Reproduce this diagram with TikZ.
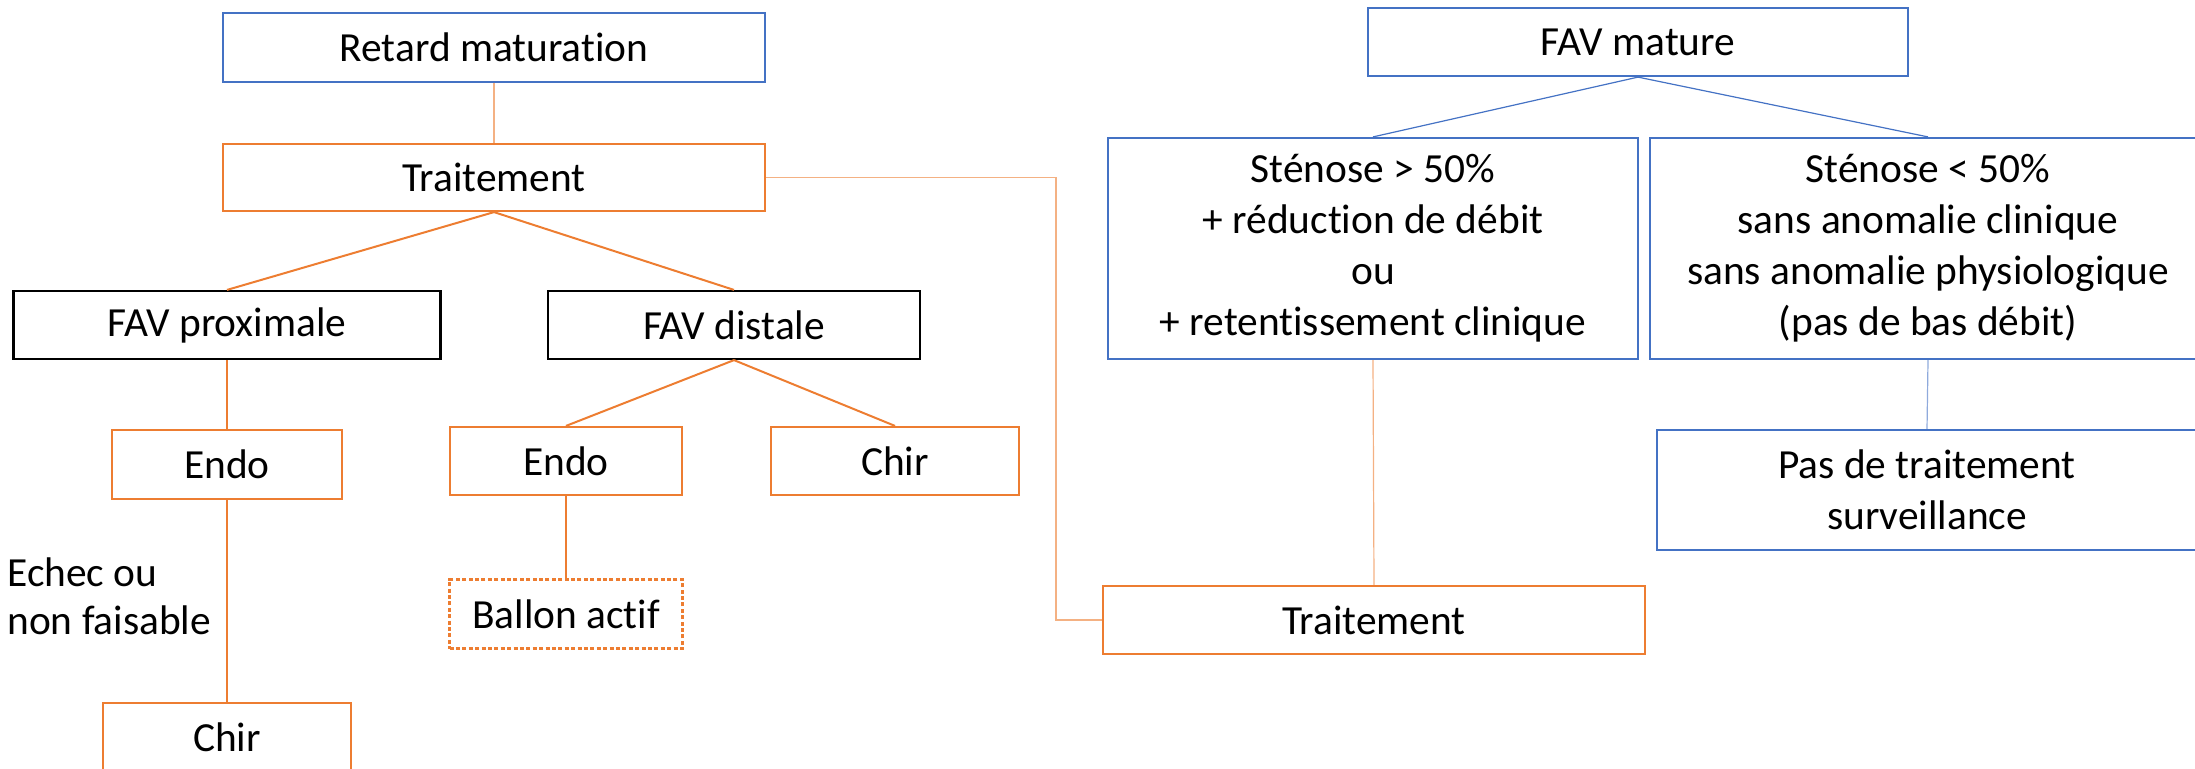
\documentclass[tikz,border=0pt]{standalone}
\usepackage{fontspec}
\setmainfont{Carlito}[Ligatures={NoCommon}]
\definecolor{orng}{HTML}{ED7D31}
\definecolor{lorng}{HTML}{F4B183}
\definecolor{blu}{HTML}{4472C4}
\definecolor{lblu}{HTML}{8FAADC}
\begin{document}
\begin{tikzpicture}[x=0.5pt,y=-0.5pt,
  box/.style={draw, line width=1.1pt, inner sep=0pt, align=center, fill=white,
    font=\fontsize{20.7}{25.5}\selectfont},
  obox/.style={box, draw=orng},
  bbox/.style={box, draw=blu},
  kbox/.style={box, draw=black},
  dbox/.style={box, draw=orng, dash pattern=on 2pt off 1.2pt},
  oline/.style={draw=orng, line width=1pt},
  tline/.style={draw=lorng, line width=0.6pt},
  bline/.style={draw=blu, line width=0.6pt},
  lbline/.style={draw=lblu, line width=0.6pt}]
\clip (0,0) rectangle (2195,768);
\useasboundingbox (0,0) rectangle (2195,768);

\node[bbox, minimum width=271pt, minimum height=34.5pt] (retard) at (494,47.5) {Retard maturation};
\node[obox, minimum width=271pt, minimum height=33.5pt] (trait1) at (494,177.5) {Traitement};
\node[kbox, minimum width=213.5pt, minimum height=34pt] (favprox) at (227,325) {FAV proximale};
\node[kbox, minimum width=186pt, minimum height=34pt] (favdist) at (734,325) {FAV distale};
\node[obox, minimum width=115pt, minimum height=34.5pt] (endo1) at (227,464.5) {Endo};
\node[obox, minimum width=116pt, minimum height=34pt] (endo2) at (566,461) {Endo};
\node[obox, minimum width=124pt, minimum height=34pt] (chir2) at (895,461) {Chir};
\node[dbox, minimum width=116.5pt, minimum height=34.5pt] (ballon) at (566,614) {Ballon actif};
\node[obox, minimum width=124pt, minimum height=34.5pt] (chir1) at (227,737.5) {Chir};
\node[anchor=west, align=left, inner sep=0pt, font=\fontsize{20.7}{24}\selectfont] (echec) at (7,596) {Echec ou\\non faisable};

\node[bbox, minimum width=270pt, minimum height=34pt] (favmat) at (1638,42) {FAV mature};
\node[bbox, minimum width=265pt, minimum height=110.5pt] (sten1) at (1373,248.5)
  {Sténose > 50\%\\+ réduction de débit\\ou\\+ retentissement clinique};
\node[bbox, minimum width=278pt, minimum height=110.5pt] (sten2) at (1928,248.5)
  {Sténose < 50\%\\sans anomalie clinique\\sans anomalie physiologique\\(pas de bas débit)};
\node[obox, minimum width=271pt, minimum height=34pt] (trait2) at (1374,620) {Traitement};
\node[bbox, minimum width=270pt, minimum height=60pt] (pasde) at (1927,490) {Pas de traitement\\surveillance};

\coordinate (c1) at (1056,177.5);
\coordinate (c2) at (1056,620);

\path[tline] (retard.south) -- (trait1.north);
\path[oline] (trait1.south) -- (favprox.north);
\path[oline] (trait1.south) -- (favdist.north);
\path[oline] (favprox.south) -- (endo1.north);
\path[oline] (endo1.south) -- (chir1.north);
\path[oline] (favdist.south) -- (endo2.north);
\path[oline] (favdist.south) -- (chir2.north);
\path[oline, line width=0.8pt] (endo2.south) -- (ballon.north);
\path[tline] (trait1.east) -- (c1) -- (c2) -- (trait2.west);
\path[bline] (favmat.south) -- (sten1.north);
\path[bline] (favmat.south) -- (sten2.north);
\path[tline] (sten1.south) -- (trait2.north);
\path[lbline] (sten2.south) -- (pasde.north);
\end{tikzpicture}
\end{document}
